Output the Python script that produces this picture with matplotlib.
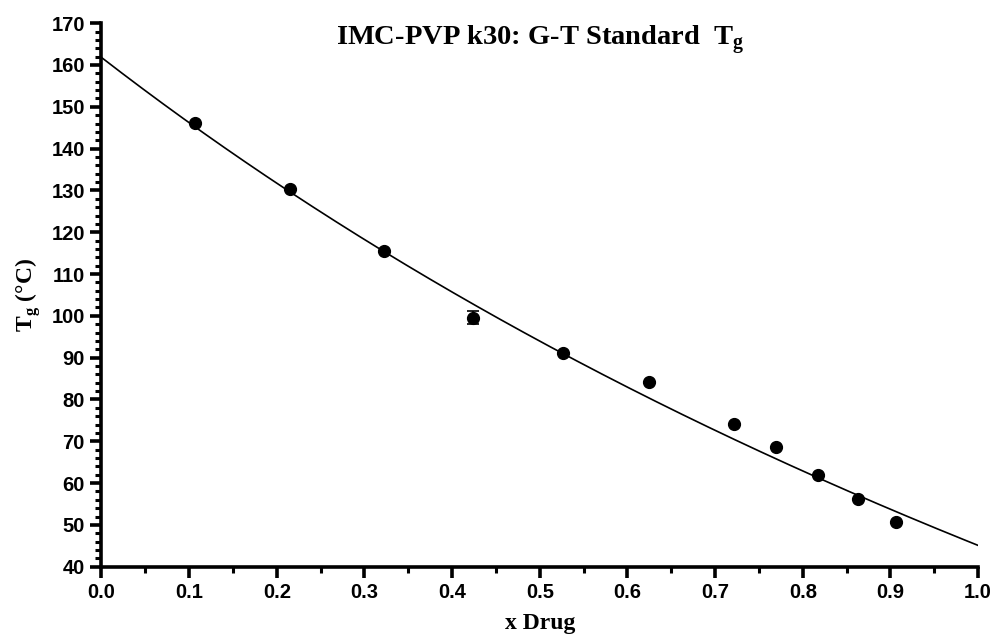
import numpy as np
import matplotlib
matplotlib.use("Agg")
import matplotlib.pyplot as plt
from matplotlib.ticker import MultipleLocator

# measured Tg values vs drug weight fraction
x_drug = [0.107, 0.215, 0.322, 0.424, 0.527, 0.625, 0.722, 0.770, 0.817, 0.863, 0.906]
tg_meas = [146.1, 130.3, 115.6, 99.6, 91.2, 84.2, 74.2, 68.6, 61.9, 56.2, 50.7]
tg_err = [0.0, 0.0, 0.0, 1.6, 0.0, 0.0, 0.0, 0.0, 0.0, 0.0, 0.0]

# Gordon-Taylor fit parameters
tg_drug = 45.1
tg_poly = 161.8
k_gt = 0.72


def gordon_taylor(x):
    return (x * tg_drug + k_gt * (1 - x) * tg_poly) / (x + k_gt * (1 - x))


serif = "Liberation Serif"
sans = "Liberation Sans"

fig = plt.figure(figsize=(9.95, 6.44), dpi=100)
ax = fig.add_axes([0.102, 0.120, 0.881, 0.844])

xs = np.linspace(0, 1, 300)
ax.plot(xs, gordon_taylor(xs), color="black", lw=1.2, zorder=2)
ax.errorbar(x_drug, tg_meas, yerr=tg_err, fmt="o", color="black", ms=8.5,
            capsize=4, elinewidth=1.2, capthick=1.2, zorder=3)

ax.set_xlim(0, 1.0)
ax.set_ylim(40, 170)
ax.xaxis.set_major_locator(MultipleLocator(0.1))
ax.xaxis.set_minor_locator(MultipleLocator(0.05))
ax.yaxis.set_major_locator(MultipleLocator(10))
ax.yaxis.set_minor_locator(MultipleLocator(2))
ax.xaxis.set_major_formatter(matplotlib.ticker.FormatStrFormatter("%.1f"))

for s in ["top", "right"]:
    ax.spines[s].set_visible(False)
for s in ["left", "bottom"]:
    ax.spines[s].set_linewidth(2.6)

ax.tick_params(which="major", direction="out", length=8, width=2.6, pad=4)
ax.tick_params(which="minor", direction="out", length=4.5, width=2.2)
for lab in ax.get_xticklabels() + ax.get_yticklabels():
    lab.set_fontfamily(sans)
    lab.set_fontweight("bold")
    lab.set_fontsize(14.5)

ax.set_xlabel("x Drug", fontfamily=serif, fontweight="bold", fontsize=17, labelpad=8)
ax.set_ylabel("T$_\\mathregular{g}$ (°C)", fontfamily=serif, fontweight="bold", fontsize=17, labelpad=6)
fig.text(0.543, 0.930, "IMC-PVP k30: G-T Standard  T$_\\mathregular{g}$", fontfamily=serif,
         fontweight="bold", fontsize=20.5, ha="center", va="baseline")

fig.savefig("out.png", dpi=100)
